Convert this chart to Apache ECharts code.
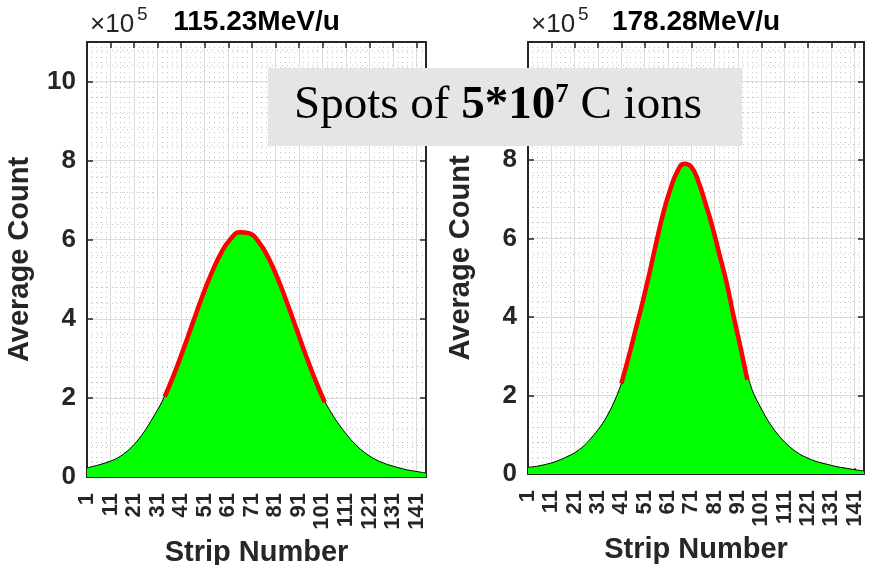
<!DOCTYPE html>
<html>
<head>
<meta charset="utf-8">
<script src="https://cdn.jsdelivr.net/npm/echarts@6/dist/echarts.min.js"></script>
<style>html,body{margin:0;background:#fff}#chart{width:869px;height:565px}</style>
</head>
<body>
<div id="chart"></div>
<script>
const strips = [1,5,9,13,17,21,25,29,33,37,41,45,49,53,57,61,65,69,73,77,81,85,89,93,97,101,105,109,113,117,121,125,129,133,137,141,145];
// average counts (x1e5)
const count115 = [0.23,0.29,0.36,0.45,0.60,0.82,1.12,1.50,1.92,2.50,3.12,3.80,4.45,5.08,5.62,5.97,6.16,6.19,6.02,5.65,5.17,4.58,3.95,3.28,2.62,2.03,1.60,1.25,0.95,0.71,0.53,0.40,0.31,0.24,0.18,0.14,0.10];
const count178 = [0.17,0.20,0.25,0.32,0.42,0.54,0.72,0.98,1.29,1.72,2.30,3.15,4.10,5.10,6.15,7.05,7.70,7.88,7.60,6.90,6.05,5.15,4.05,3.00,2.15,1.66,1.25,0.94,0.70,0.52,0.40,0.31,0.25,0.19,0.15,0.11,0.08];
// gaussian fit curves
const fitStrips115 = [34,38,42,46,50,54,58,62,66,70,74,78,82,86,90,94,98,102];
const fit115 = [2.03,2.60,3.24,3.91,4.57,5.17,5.67,6.02,6.19,6.16,5.94,5.55,5.02,4.40,3.74,3.07,2.45,1.89];
const fitStrips178 = [41,44,47,50,53,56,59,62,65,68,71,74,77,80,83,86,89,92,95];
const fit178 = [2.30,2.95,3.65,4.35,5.10,5.90,6.65,7.25,7.70,7.90,7.82,7.45,6.90,6.30,5.60,4.90,4.05,3.25,2.40];
const titles = ['115.23MeV/u', '178.28MeV/u'];

const FONT = "'Liberation Sans', Arial, Helvetica, sans-serif";
const SERIF = "'Liberation Serif', 'Times New Roman', serif";
const DARK = '#262626';

const pair = (xs, ys) => xs.map((x, i) => [x, ys[i]]);

const grids = [
  { left: 87, top: 42, width: 339, height: 435, outerBoundsMode: 'none' },
  { left: 528, top: 42, width: 336, height: 432, outerBoundsMode: 'none' }
];

function xAxes(gi) {
  const base = {
    type: 'value', gridIndex: gi, min: 1, max: 145, interval: 10,
    axisLine: { show: true, onZero: false, lineStyle: { color: DARK, width: 2 } },
    axisTick: { show: true, inside: true, length: 6, lineStyle: { color: DARK, width: 1.5 } }
  };
  return [
    Object.assign({}, base, {
      position: 'bottom',
      name: 'Strip Number', nameLocation: 'middle', nameGap: 61,
      nameTextStyle: { fontSize: 29, fontWeight: 'bold', color: DARK, fontFamily: FONT },
      axisLabel: { rotate: 90, fontSize: 22, fontWeight: 'bold', color: DARK, margin: 16, showMaxLabel: false, fontFamily: FONT },
      splitLine: { show: true, lineStyle: { color: '#dcdcdc', width: 1 } },
      minorTick: { show: false, splitNumber: 5 },
      minorSplitLine: { show: true, lineStyle: { color: '#c4c4c4', width: 1, type: [1, 4] } }
    }),
    Object.assign({}, base, {
      position: 'top', axisLabel: { show: false }, splitLine: { show: false }
    })
  ];
}

function yAxes(gi) {
  const base = {
    type: 'value', gridIndex: gi, min: 0, max: 11, interval: 2,
    axisLine: { show: true, onZero: false, lineStyle: { color: DARK, width: 2 } },
    axisTick: { show: true, inside: true, length: 6, lineStyle: { color: DARK, width: 1.5 } }
  };
  return [
    Object.assign({}, base, {
      position: 'left',
      name: 'Average Count', nameLocation: 'middle', nameGap: 53, nameRotate: 90,
      nameTextStyle: { fontSize: 29, fontWeight: 'bold', color: DARK, fontFamily: FONT },
      axisLabel: { fontSize: 26, fontWeight: 'bold', color: DARK, margin: 11, showMaxLabel: false, fontFamily: FONT },
      splitLine: { show: true, lineStyle: { color: '#dcdcdc', width: 1 } },
      minorTick: { show: false, splitNumber: 5 },
      minorSplitLine: { show: true, lineStyle: { color: '#c4c4c4', width: 1, type: [1, 4] } }
    }),
    Object.assign({}, base, {
      position: 'right', axisLabel: { show: false }, splitLine: { show: false }
    })
  ];
}

function profile(idx, data) {
  return {
    type: 'line', xAxisIndex: idx, yAxisIndex: idx, data: data,
    smooth: 0.3, symbol: 'none', z: 2,
    lineStyle: { color: '#000', width: 1 },
    areaStyle: { color: '#00ff00', opacity: 1 }
  };
}

function fitLine(idx, data) {
  return {
    type: 'line', xAxisIndex: idx, yAxisIndex: idx, data: data,
    smooth: true, symbol: 'none', z: 3,
    lineStyle: { color: '#ff0000', width: 4.5 }
  };
}

function header(gi) {
  const g = grids[gi];
  return [
    {
      type: 'text', x: g.left + 3, y: 38,
      style: { text: '×10', fontSize: 26, fontFamily: FONT, fill: DARK, align: 'left', verticalAlign: 'bottom' }
    },
    {
      type: 'text', x: g.left + 50, y: 24,
      style: { text: '5', fontSize: 19, fontFamily: FONT, fill: DARK, align: 'left', verticalAlign: 'bottom' }
    },
    {
      type: 'text', x: g.left + g.width / 2, y: 22,
      style: {
        text: titles[gi], fontSize: 28, fontWeight: 'bold', fontFamily: FONT, fill: '#000',
        align: 'center', verticalAlign: 'middle'
      }
    }
  ];
}

const chart = echarts.init(document.getElementById('chart'));
chart.setOption({
  animation: false,
  backgroundColor: '#fff',
  grid: grids,
  xAxis: xAxes(0).concat(xAxes(1)),
  yAxis: yAxes(0).concat(yAxes(1)),
  series: [
    profile(0, pair(strips, count115)),
    fitLine(0, pair(fitStrips115, fit115)),
    profile(2, pair(strips, count178)),
    fitLine(2, pair(fitStrips178, fit178))
  ],
  graphic: header(0).concat(header(1)).concat([
    { type: 'rect', shape: { x: 268, y: 68, width: 474, height: 78 }, style: { fill: '#e5e5e5' }, z: 100 },
    {
      type: 'text', x: 498, y: 106, z: 101,
      style: {
        text: '{a|Spots of }{b|5*10}{c|7}{a| C ions}',
        align: 'center', verticalAlign: 'middle',
        rich: {
          a: { fontSize: 47, fontFamily: SERIF, fill: '#000', lineHeight: 50 },
          b: { fontSize: 47, fontWeight: 'bold', fontFamily: SERIF, fill: '#000', lineHeight: 50 },
          c: { fontSize: 27, fontWeight: 'bold', fontFamily: SERIF, fill: '#000', lineHeight: 27, padding: [0, 0, 22, 0] }
        }
      }
    }
  ])
});
</script>
</body>
</html>
